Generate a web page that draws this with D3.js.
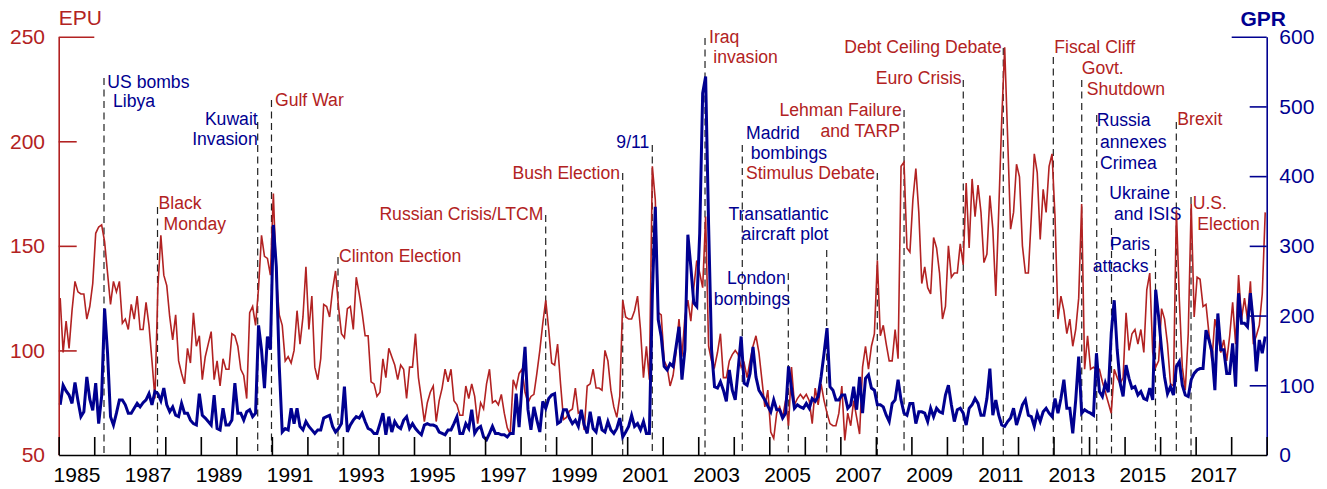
<!DOCTYPE html>
<html>
<head>
<meta charset="utf-8">
<script src="https://cdnjs.cloudflare.com/ajax/libs/d3/7.8.5/d3.min.js"></script>
<style>
  body { margin: 0; background: #fff; }
  svg text { font-family: "Liberation Sans", Arial, Helvetica, sans-serif; }
</style>
</head>
<body>
<div id="chart"></div>
<script>
/* * * * * * * * * * * * * * * * *
*   EPU vs GPR, monthly 1985-2018  *
* * * * * * * * * * * * * * * * * */

const startYear = 1985;

// Economic Policy Uncertainty, monthly (one row per year)
const epu = [
    125, 99, 114, 101, 119, 133, 128, 127, 127, 115, 121, 132,   // 1985
    156, 159, 160, 152, 137, 122, 133, 128, 133, 113, 115, 110,  // 1986
    122, 115, 126, 110, 110, 123, 112, 95, 77, 130, 155, 136,    // 1987
    131, 116, 105, 117, 95, 89, 84, 101, 94, 118, 102, 107,      // 1988
    86, 97, 103, 109, 86, 95, 83, 96, 91, 91, 108, 107,          // 1989
    102, 91, 88, 77, 118, 121, 112, 130, 155, 145, 144, 136,     // 1990
    175, 135, 117, 112, 95, 97, 94, 100, 119, 103, 116, 140,     // 1991
    110, 126, 92, 86, 96, 122, 121, 116, 129, 138, 121, 108,     // 1992
    106, 120, 121, 110, 135, 127, 118, 107, 107, 85, 84, 78,     // 1993
    80, 96, 87, 101, 97, 93, 86, 93, 91, 77, 92, 92,             // 1994
    108, 87, 77, 66, 75, 80, 83, 66, 76, 82, 91, 85,             // 1995
    91, 76, 74, 69, 69, 83, 77, 84, 78, 65, 75, 72,              // 1996
    84, 91, 75, 76, 74, 79, 70, 63, 60, 86, 82, 89,              // 1997
    91, 80, 75, 78, 79, 89, 100, 113, 124, 110, 94, 93,          // 1998
    103, 84, 67, 68, 71, 72, 82, 70, 71, 62, 83, 84,             // 1999
    91, 82, 82, 81, 100, 95, 81, 73, 68, 78, 124, 116,           // 2000
    115, 115, 119, 126, 110, 87, 102, 86, 188, 172, 118, 117,    // 2001
    95, 92, 83, 88, 99, 115, 97, 116, 124, 114, 130, 143,        // 2002
    137, 130, 164, 102, 95, 92, 99, 108, 87, 87, 95, 98,         // 2003
    100, 98, 92, 94, 87, 95, 102, 107, 99, 86, 73, 81,           // 2004
    61, 58, 70, 73, 68, 76, 64, 92, 74, 77, 79, 77,              // 2005
    79, 76, 65, 82, 74, 84, 76, 70, 65, 64, 64, 70,              // 2006
    83, 57, 70, 64, 76, 68, 60, 92, 102, 91, 102, 108,           // 2007
    143, 107, 112, 103, 95, 95, 110, 96, 188, 190, 149, 147,     // 2008
    172, 187, 166, 132, 140, 130, 127, 154, 149, 137, 115, 121,  // 2009
    150, 135, 137, 137, 151, 141, 180, 149, 182, 164, 179, 166,  // 2010
    142, 146, 174, 158, 126, 167, 210, 245, 202, 158, 166, 189,  // 2011
    183, 150, 137, 137, 164, 194, 185, 153, 177, 166, 188, 194,  // 2012
    164, 115, 126, 119, 108, 115, 102, 110, 125, 170, 91, 107,   // 2013
    91, 92, 91, 91, 85, 80, 75, 70, 91, 87, 84, 87,              // 2014
    118, 100, 108, 110, 103, 110, 99, 129, 137, 99, 92, 95,      // 2015
    120, 115, 103, 84, 83, 167, 124, 92, 81, 108, 170, 116,      // 2016
    135, 134, 121, 122, 108, 95, 115, 108, 99, 105, 95, 107,     // 2017
    123, 103, 136, 115, 125, 115, 133, 103, 107, 112, 127, 166   // 2018
];

// Geopolitical Risk index, monthly (one row per year)
const gpr = [
    72, 100, 92, 86, 74, 104, 78, 55, 62, 112, 80, 64,           // 1985
    103, 45, 84, 210, 146, 55, 43, 60, 79, 79, 72, 60,           // 1986
    60, 67, 74, 69, 75, 79, 88, 72, 91, 88, 78, 96,              // 1987
    72, 62, 69, 57, 55, 74, 60, 60, 50, 45, 43, 88,              // 1988
    57, 53, 48, 43, 86, 38, 36, 67, 43, 43, 50, 103,             // 1989
    60, 60, 50, 62, 65, 55, 60, 186, 151, 96, 170, 151,          // 1990
    330, 270, 127, 33, 38, 36, 67, 45, 67, 41, 36, 48,           // 1991
    41, 36, 31, 36, 36, 53, 55, 57, 41, 33, 38, 45,              // 1992
    98, 33, 43, 50, 55, 53, 60, 48, 38, 36, 31, 31,              // 1993
    45, 60, 29, 55, 33, 48, 41, 38, 50, 55, 38, 45,              // 1994
    38, 33, 29, 43, 45, 43, 43, 41, 33, 31, 29, 36,              // 1995
    36, 45, 55, 31, 31, 45, 38, 65, 31, 38, 41, 26,              // 1996
    22, 31, 41, 31, 31, 29, 29, 26, 31, 31, 88, 40,              // 1997
    103, 155, 65, 36, 69, 50, 33, 77, 67, 81, 86, 88,            // 1998
    45, 48, 65, 65, 53, 45, 50, 41, 65, 43, 31, 62,              // 1999
    38, 33, 55, 36, 33, 48, 36, 31, 38, 53, 26, 33,              // 2000
    41, 57, 41, 45, 36, 48, 31, 31, 230, 356, 194, 170,          // 2001
    127, 122, 131, 127, 155, 184, 108, 151, 316, 270, 218, 213,  // 2002
    318, 519, 543, 330, 151, 98, 96, 105, 93, 77, 122, 93,       // 2003
    79, 124, 170, 103, 100, 117, 155, 112, 93, 86, 79, 70,       // 2004
    62, 79, 65, 65, 53, 60, 127, 96, 67, 72, 69, 67,             // 2005
    74, 67, 81, 77, 84, 112, 146, 182, 98, 93, 79, 79,           // 2006
    86, 86, 67, 72, 98, 65, 112, 60, 110, 115, 96, 93,           // 2007
    72, 72, 69, 57, 48, 74, 79, 108, 79, 60, 57, 74,             // 2008
    74, 45, 62, 62, 60, 48, 67, 55, 67, 62, 60, 86,              // 2009
    100, 72, 48, 65, 67, 60, 43, 67, 72, 81, 74, 57,             // 2010
    57, 81, 124, 57, 79, 57, 43, 41, 48, 53, 67, 43,             // 2011
    57, 72, 79, 57, 55, 41, 60, 48, 62, 67, 60, 55,              // 2012
    81, 60, 81, 108, 67, 67, 31, 79, 141, 60, 65, 62,            // 2013
    60, 57, 146, 91, 84, 103, 90, 175, 222, 151, 103, 84,        // 2014
    129, 110, 96, 98, 86, 91, 81, 79, 96, 79, 237, 198,          // 2015
    151, 112, 88, 98, 86, 127, 134, 100, 86, 84, 108, 117,       // 2016
    122, 124, 124, 179, 165, 148, 93, 203, 151, 151, 117, 117,   // 2017
    160, 98, 232, 189, 189, 184, 232, 189, 120, 165, 146, 170    // 2018
];

const epuTicks = [50, 100, 150, 200, 250];
const gprTicks = [0, 100, 200, 300, 400, 500, 600];
const yearTicks = d3.range(1985, 2020);
const yearLabels = d3.range(1985, 2019, 2);

// events: date (decimal year), which index it belongs to, label lines
const events = [
    {date: 1986.275, series: "gpr", label: ["US bombs", "Libya"]},
    {date: 1987.781, series: "epu", label: ["Black", "Monday"]},
    {date: 1990.601, series: "gpr", label: ["Kuwait", "Invasion"]},
    {date: 1990.989, series: "epu", label: ["Gulf War"]},
    {date: 1992.861, series: "epu", label: ["Clinton Election"]},
    {date: 1998.707, series: "epu", label: ["Russian Crisis/LTCM"]},
    {date: 2000.874, series: "epu", label: ["Bush Election"]},
    {date: 2001.707, series: "gpr", label: ["9/11"]},
    {date: 2003.191, series: "epu", label: ["Iraq", "invasion"]},
    {date: 2004.240, series: "gpr", label: ["Madrid", "bombings"]},
    {date: 2005.535, series: "gpr", label: ["London", "bombings"]},
    {date: 2006.616, series: "gpr", label: ["Transatlantic", "aircraft plot"]},
    {date: 2008.040, series: "epu", label: ["Stimulus Debate"]},
    {date: 2008.793, series: "epu", label: ["Lehman Failure", "and TARP"]},
    {date: 2010.460, series: "epu", label: ["Euro Crisis"]},
    {date: 2011.586, series: "epu", label: ["Debt Ceiling Debate"]},
    {date: 2012.994, series: "epu", label: ["Fiscal Cliff"]},
    {date: 2013.794, series: "epu", label: ["Govt.", "Shutdown"]},
    {date: 2014.216, series: "gpr", label: ["Russia", "annexes", "Crimea"]},
    {date: 2014.632, series: "gpr", label: ["Ukraine", "and ISIS"]},
    {date: 2015.870, series: "gpr", label: ["Paris", "attacks"]},
    {date: 2016.456, series: "epu", label: ["Brexit"]},
    {date: 2016.870, series: "epu", label: ["U.S.", "Election"]}
];

// where the dashed line starts and where each label line sits (dx from line, baseline y)
const layout = [
    {top: 78,  anchor: "start", pos: [[3.3, 88], [9, 107]]},
    {top: 207, anchor: "start", pos: [[1, 209], [6, 230]]},
    {top: 122, anchor: "end",   pos: [[0, 124.5], [0, 145]]},
    {top: 100, anchor: "start", pos: [[3.5, 106]]},
    {top: 257, anchor: "start", pos: [[1, 262]]},
    {top: 215, anchor: "end",   pos: [[-2.4, 219.5]]},
    {top: 173, anchor: "end",   pos: [[-2.7, 178.5]]},
    {top: 145, anchor: "end",   pos: [[-3, 147.5]]},
    {top: 38,  anchor: "start", pos: [[4, 43], [8.3, 62.5]]},
    {top: 145, anchor: "start", pos: [[3.7, 138.5], [8.4, 159]]},
    {top: 273, anchor: "end",   pos: [[-2.6, 284], [1.7, 305]]},
    {top: 250, anchor: "end",   pos: [[1.8, 220], [1.8, 240]]},
    {top: 173, anchor: "end",   pos: [[-2.3, 179]]},
    {top: 110, anchor: "end",   pos: [[-2.3, 116], [-4, 136.5]]},
    {top: 80,  anchor: "end",   pos: [[-1.6, 84]]},
    {top: 48,  anchor: "end",   pos: [[-1.6, 53]]},
    {top: 57,  anchor: "start", pos: [[1, 53]]},
    {top: 80,  anchor: "start", pos: [[0, 74], [5, 95]]},
    {top: 115, anchor: "start", pos: [[0, 126], [3.3, 148], [3.3, 168.5]]},
    {top: 228, anchor: "start", pos: [[-2.2, 199], [2.5, 219.5]]},
    {top: 249, anchor: "end",   pos: [[-5.5, 250], [-7, 271.5]]},
    {top: 122, anchor: "start", pos: [[1, 125]]},
    {top: 197, anchor: "start", pos: [[1.7, 208.5], [6.3, 230]]}
];

const RED = "#b22222", BLUE = "#000090";
const colors = {epu: RED, gpr: BLUE};
const width = 1327, height = 489;

const svg = d3.select("#chart").append("svg")
    .attr("width", width)
    .attr("height", height);

// scales
const x = d3.scaleLinear().domain([1985, 2019]).range([58.7, 1266.7]);
const yL = d3.scaleLinear().domain([50, 250]).range([455, 36.7]);
const yR = d3.scaleLinear().domain([0, 600]).range([455, 36.7]);

// monthly points sit in the middle of each month
const monthX = i => x(startYear + (i + 0.5) / 12);

// event lines
svg.append("g")
    .selectAll("line")
    .data(events)
    .enter().append("line")
    .attr("x1", d => x(d.date))
    .attr("x2", d => x(d.date))
    .attr("y1", (d, i) => layout[i].top)
    .attr("y2", yL(50))
    .attr("stroke", "#222")
    .attr("stroke-width", 1.2)
    .attr("stroke-dasharray", "7,4.5");

// event labels
events.forEach(function (ev, i) {
    let lay = layout[i];
    ev.label.forEach(function (txt, j) {
        svg.append("text")
            .attr("x", x(ev.date) + lay.pos[j][0])
            .attr("y", lay.pos[j][1])
            .attr("text-anchor", lay.anchor)
            .attr("fill", colors[ev.series])
            .style("font-size", "17.6px")
            .text(txt);
    });
});

// series
const epuLine = d3.line()
    .x((d, i) => monthX(i))
    .y(d => yL(d));

const gprLine = d3.line()
    .x((d, i) => monthX(i))
    .y(d => yR(d));

svg.append("path")
    .datum(epu)
    .attr("d", epuLine)
    .attr("fill", "none")
    .attr("stroke", RED)
    .attr("stroke-width", 1.6);

svg.append("path")
    .datum(gpr)
    .attr("d", gprLine)
    .attr("fill", "none")
    .attr("stroke", BLUE)
    .attr("stroke-width", 3);

// left axis (EPU)
svg.append("g")
    .attr("transform", `translate(${x(1985)},0)`)
    .attr("color", RED)
    .call(d3.axisLeft(yL).tickValues(epuTicks).tickSizeInner(-18).tickSizeOuter(0).tickPadding(13.7))
    .attr("font-size", 21)
    .attr("font-family", null)
    .call(g => g.select(".domain").attr("stroke-width", 1.6))
    .call(g => g.selectAll(".tick line")
        .attr("stroke-width", 1.6)
        .attr("x2", d => d === 250 ? 35.6 : (d === 50 ? 0 : 18)));

// right axis (GPR)
svg.append("g")
    .attr("transform", `translate(${x(2019)},0)`)
    .attr("color", BLUE)
    .call(d3.axisRight(yR).tickValues(gprTicks).tickSizeInner(-17).tickSizeOuter(0).tickPadding(12.6))
    .attr("font-size", 21)
    .attr("font-family", null)
    .call(g => g.select(".domain").attr("stroke-width", 1.6))
    .call(g => g.selectAll(".tick line")
        .attr("stroke-width", 1.6)
        .attr("x2", d => d === 600 ? -35 : (d === 0 ? 0 : -17)));

// bottom axis: year ticks
svg.append("g")
    .attr("transform", `translate(0,${yL(50)})`)
    .attr("color", "#000")
    .call(d3.axisBottom(x).tickValues(yearTicks).tickSizeInner(-18).tickSizeOuter(0).tickFormat(""))
    .call(g => g.select(".domain").attr("stroke-width", 1.6))
    .call(g => g.selectAll(".tick line").attr("stroke-width", 1.6));

// year labels centred on odd years
svg.append("g")
    .attr("transform", `translate(0,${yL(50)})`)
    .attr("color", "#000")
    .call(d3.axisBottom(x).tickValues(yearLabels.map(d => d + 0.5)).tickSize(0).tickPadding(11.8)
        .tickFormat(d => Math.floor(d)))
    .attr("font-size", 21)
    .attr("font-family", null)
    .call(g => g.select(".domain").remove());

// axis titles
svg.append("text")
    .attr("x", x(1985))
    .attr("y", 25)
    .attr("fill", RED)
    .style("font-size", "21px")
    .text("EPU");

svg.append("text")
    .attr("x", 1286)
    .attr("y", 26)
    .attr("text-anchor", "end")
    .attr("fill", BLUE)
    .style("font-size", "21px")
    .style("font-weight", "bold")
    .text("GPR");
</script>
</body>
</html>
